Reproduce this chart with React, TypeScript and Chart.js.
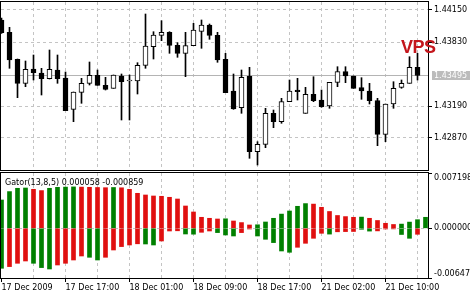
import React, { useEffect, useRef } from 'react';
import { Chart, registerables } from 'chart.js';

Chart.register(...registerables);

// ---- Candles (hourly, EURUSD-like) ----
const opens = [
  1.44050, 1.43927, 1.43657, 1.43417, 1.43560, 1.43520, 1.43463, 1.43550, 1.43470, 1.43157,
  1.43327, 1.43417, 1.43497, 1.43397, 1.43367, 1.43490, 1.43440, 1.43440, 1.43597, 1.43783,
  1.43897, 1.43927, 1.43797, 1.43717, 1.43793, 1.43937, 1.44000, 1.43897, 1.43657, 1.43340,
  1.43173, 1.43487, 1.42733, 1.42807, 1.43117, 1.43033, 1.43233, 1.43350, 1.43117, 1.43307,
  1.43250, 1.43190, 1.43427, 1.43533, 1.43490, 1.43373, 1.43340, 1.43243, 1.42907, 1.43210,
  1.43377, 1.43417, 1.43577,
];
const highs = [
  1.44070, 1.43977, 1.43660, 1.43640, 1.43700, 1.43567, 1.43750, 1.43700, 1.43530, 1.43330,
  1.43467, 1.43630, 1.43550, 1.43477, 1.43500, 1.43510, 1.43500, 1.43623, 1.44110, 1.43933,
  1.44043, 1.43933, 1.43823, 1.43927, 1.44017, 1.44050, 1.44010, 1.43927, 1.43717, 1.43510,
  1.43550, 1.43577, 1.42833, 1.43167, 1.43150, 1.43267, 1.43450, 1.43467, 1.43377, 1.43483,
  1.43350, 1.43427, 1.43583, 1.43583, 1.43490, 1.43473, 1.43417, 1.43267, 1.43210, 1.43433,
  1.43450, 1.43683, 1.43717,
];
const lows = [
  1.43915, 1.43567, 1.43273, 1.43383, 1.43450, 1.43300, 1.43460, 1.43417, 1.43143, 1.43033,
  1.43217, 1.43400, 1.43397, 1.43350, 1.43367, 1.43050, 1.43050, 1.43310, 1.43567, 1.43660,
  1.43843, 1.43717, 1.43677, 1.43483, 1.43793, 1.43767, 1.43857, 1.43627, 1.43323, 1.43157,
  1.43117, 1.42667, 1.42600, 1.42773, 1.42973, 1.43017, 1.43233, 1.43250, 1.43117, 1.43233,
  1.43177, 1.43167, 1.43383, 1.43423, 1.43367, 1.43257, 1.43210, 1.42793, 1.42833, 1.43167,
  1.43367, 1.43417, 1.43450,
];
const closes = [
  1.43923, 1.43650, 1.43417, 1.43557, 1.43523, 1.43463, 1.43557, 1.43463, 1.43143, 1.43330,
  1.43417, 1.43497, 1.43397, 1.43357, 1.43500, 1.43433, 1.43442, 1.43597, 1.43790, 1.43900,
  1.43927, 1.43797, 1.43717, 1.43793, 1.43950, 1.44000, 1.43897, 1.43650, 1.43323, 1.43160,
  1.43477, 1.42733, 1.42807, 1.43117, 1.43033, 1.43233, 1.43340, 1.43333, 1.43307, 1.43243,
  1.43183, 1.43427, 1.43533, 1.43490, 1.43367, 1.43340, 1.43243, 1.42907, 1.43210, 1.43367,
  1.43417, 1.43577, 1.43495,
];
const lastPrice = 1.43495;
const priceTicks = [1.42870, 1.43190, 1.43830, 1.44150];

// ---- Gator(13,8,5) ----
const gatorUpper = [
  0.003684, 0.004778, 0.005207, 0.005246, 0.005077, 0.004908, 0.005207, 0.005337, 0.005363, 0.005389,
  0.005363, 0.005337, 0.005311, 0.005285, 0.005311, 0.005272, 0.005077, 0.004556, 0.004335, 0.004205,
  0.004166, 0.004036, 0.003814, 0.002903, 0.002122, 0.001432, 0.001302, 0.001211, 0.001237, 0.000950,
  0.000742, 0.000430, 0.000456, 0.000820, 0.001302, 0.001849, 0.002252, 0.002864, 0.003215, 0.003150,
  0.002734, 0.002187, 0.001666, 0.001523, 0.001432, 0.001458, 0.001302, 0.001015, 0.000651, 0.000495,
  0.000547, 0.000807, 0.001120, 0.001432,
];
const gatorUpperColors = 'GGGGRRGGGGRRRRGRRRRRRRRRRRRRGRRRGGGGGGGRRRRRRGRRRRGGGG'.split('');
const gatorLower = [
  -0.005207, -0.004986, -0.004556, -0.004257, -0.004556, -0.005116, -0.005298, -0.004778, -0.004556, -0.004127,
  -0.003606, -0.003775, -0.004127, -0.003775, -0.002825, -0.002382, -0.002174, -0.002018, -0.002044, -0.002174,
  -0.001653, -0.000351, -0.000325, -0.000742, -0.000768, -0.000521, -0.000351, -0.000560, -0.000872, -0.001002,
  -0.000560, -0.000091, -0.001002, -0.001432, -0.001862, -0.002955, -0.003124, -0.002473, -0.001953, -0.001302,
  -0.000651, -0.000755, -0.000456, -0.000430, -0.000417, -0.000130, -0.000365, -0.000338, -0.000091, -0.000078,
  -0.000807, -0.001302, -0.000781,
];
const gatorLowerColors = 'GRRRGGGRRRRGGRRRRRGGRRRGGRRGGGRRGGGGGRRRRGRRRGGRRRGGR'.split('');
const gatorMax = 0.007198;
const gatorMin = -0.006471;
const gatorTickLabels = ['-0.006471', '0.000000', '0.007198'];
const gatorTitle = 'Gator(13,8,5) 0.000058 -0.000859';

// ---- Time axis ----
const xTickBars = [0, 8, 16, 24, 32, 40, 48];
const xTickLabels = ['17 Dec 2009', '17 Dec 17:00', '18 Dec 01:00', '18 Dec 09:00', '18 Dec 17:00', '21 Dec 02:00', '21 Dec 10:00'];
const gridBars = [4, 8, 12, 16, 20, 24, 28, 32, 36, 40, 44, 48, 52];

const X_MIN = -0.0625;
const X_MAX = 53.3125;
const Y_MIN = 1.42550;
const Y_MAX = 1.44230;

const FONT = { family: "'DejaVu Sans', sans-serif", size: 8, lineHeight: '9px' };
const GRID = '#c4c4c4';
const PRICE_LINE = '#b4b4b4';
const GREEN = '#008000';
const RED = '#e01010';

const framePlugin = {
  id: 'frame',
  afterDraw(chart: any) {
    const { ctx, chartArea: a } = chart;
    ctx.save();
    ctx.strokeStyle = '#000';
    ctx.lineWidth = 1;
    ctx.setLineDash([]);
    ctx.strokeRect(a.left - 0.5, a.top - 0.5, a.right - a.left + 1, a.bottom - a.top + 1);
    ctx.restore();
  },
};

const noPad = (s: any) => {
  s.paddingTop = 0;
  s.paddingBottom = 0;
  s.paddingLeft = 0;
  s.paddingRight = 0;
};

export default function App() {
  const topRef = useRef<HTMLCanvasElement>(null);
  const botRef = useRef<HTMLCanvasElement>(null);

  useEffect(() => {
    const idx = opens.map((_, i) => i);
    const top = new Chart(topRef.current as HTMLCanvasElement, {
      type: 'bar',
      data: {
        datasets: [
          {
            data: idx.map((i) => ({ x: i, y: [opens[i], closes[i]] })) as any,
            backgroundColor: idx.map((i) => (closes[i] >= opens[i] ? '#ffffff' : '#000000')),
            borderColor: '#000',
            borderWidth: 1,
            borderSkipped: false,
            barThickness: 5,
            minBarLength: 1,
            grouped: false,
            clip: 0,
          } as any,
          {
            data: idx.map((i) => ({ x: i, y: [lows[i], highs[i]] })) as any,
            backgroundColor: '#000',
            borderWidth: 0,
            barThickness: 1,
            grouped: false,
            clip: 0,
          } as any,
        ],
      },
      options: {
        responsive: false,
        animation: false,
        events: [],
        layout: { padding: { left: 1, top: 2, right: 0, bottom: 2 } },
        plugins: { legend: { display: false }, tooltip: { enabled: false } },
        scales: {
          x: {
            type: 'linear',
            min: X_MIN,
            max: X_MAX,
            offset: false,
            afterBuildTicks: (s: any) => {
              s.ticks = gridBars.map((v) => ({ value: v }));
            },
            afterFit: (s: any) => {
              s.height = 0;
              noPad(s);
            },
            ticks: { display: false },
            grid: { offset: false, drawTicks: false, color: GRID, lineWidth: 1 },
            border: { display: false, dash: [3, 3] },
          } as any,
          y: {
            position: 'right',
            min: Y_MIN,
            max: Y_MAX,
            afterBuildTicks: (s: any) => {
              s.ticks = [...priceTicks, lastPrice].sort((a, b) => a - b).map((v) => ({ value: v }));
            },
            afterFit: (s: any) => {
              s.width = 42;
              noPad(s);
            },
            ticks: {
              font: FONT,
              padding: 2,
              autoSkip: false,
              color: (c: any) => (c.tick && c.tick.value === lastPrice ? '#ffffff' : '#000000'),
              showLabelBackdrop: (c: any) => !!(c.tick && c.tick.value === lastPrice),
              backdropColor: '#bcbcbc',
              backdropPadding: { left: 2, right: 12, top: 0, bottom: 0 },
              callback: (v: any) => Number(v).toFixed(5),
            },
            grid: {
              color: (c: any) => (c.tick && c.tick.value === lastPrice ? PRICE_LINE : GRID),
              tickLength: 4,
              tickColor: (c: any) => (c.tick && c.tick.value === lastPrice ? 'rgba(0,0,0,0)' : '#000'),
              tickBorderDash: [],
            },
            border: {
              color: '#000',
              dash: (c: any) => (c.tick && c.tick.value === lastPrice ? [] : [3, 3]),
            },
          } as any,
        },
      } as any,
      plugins: [framePlugin],
    });

    const gIdx = gatorUpper.map((_, i) => i);
    const lIdx = gatorLower.map((_, i) => i);
    const bot = new Chart(botRef.current as HTMLCanvasElement, {
      type: 'bar',
      data: {
        datasets: [
          {
            data: gIdx.map((i) => ({ x: i, y: gatorUpper[i] })) as any,
            backgroundColor: gatorUpperColors.map((c) => (c === 'G' ? GREEN : RED)),
            borderWidth: 0,
            barThickness: 4,
            grouped: false,
            clip: 0,
          } as any,
          {
            data: lIdx.map((i) => ({ x: i, y: gatorLower[i] })) as any,
            backgroundColor: gatorLowerColors.map((c) => (c === 'G' ? GREEN : RED)),
            borderWidth: 0,
            barThickness: 4,
            grouped: false,
            clip: 0,
          } as any,
        ],
      },
      options: {
        responsive: false,
        animation: false,
        events: [],
        layout: { padding: { left: 1, top: 2, right: 0, bottom: 0 } },
        plugins: { legend: { display: false }, tooltip: { enabled: false } },
        scales: {
          x: {
            type: 'linear',
            min: X_MIN,
            max: X_MAX,
            offset: false,
            afterBuildTicks: (s: any) => {
              s.ticks = [0, ...gridBars].map((v) => ({ value: v }));
            },
            afterFit: (s: any) => {
              s.height = 22;
              noPad(s);
            },
            ticks: {
              font: FONT,
              color: '#000',
              padding: 1,
              align: 'start',
              autoSkip: false,
              maxRotation: 0,
              minRotation: 0,
              callback: (v: any) => {
                const i = xTickBars.indexOf(Number(v));
                return i >= 0 ? xTickLabels[i] : '';
              },
            },
            grid: {
              offset: false,
              color: (c: any) => (c.tick && c.tick.value === 0 ? 'rgba(0,0,0,0)' : GRID),
              tickLength: 4,
              tickColor: (c: any) => (c.tick && c.tick.value % 8 === 0 ? '#000' : 'rgba(0,0,0,0)'),
              tickBorderDash: [],
            },
            border: { color: '#000', dash: [3, 3] },
          } as any,
          y: {
            position: 'right',
            min: gatorMin,
            max: gatorMax,
            afterBuildTicks: (s: any) => {
              s.ticks = [gatorMin, 0, gatorMax].map((v) => ({ value: v }));
            },
            afterFit: (s: any) => {
              s.width = 42;
              noPad(s);
            },
            ticks: {
              font: FONT,
              color: '#000',
              padding: 2,
              autoSkip: false,
              callback: (v: any) => {
                const n = Number(v);
                if (n === gatorMax) return ['', gatorTickLabels[2]];
                if (n === gatorMin) return [gatorTickLabels[0], ''];
                return gatorTickLabels[1];
              },
            },
            grid: {
              color: (c: any) => (c.tick && c.tick.value === 0 ? GRID : 'rgba(0,0,0,0)'),
              tickLength: 4,
              tickColor: '#000',
              tickBorderDash: [],
            },
            border: { color: '#000', dash: [3, 3] },
          } as any,
        },
      } as any,
      plugins: [framePlugin],
    });

    return () => {
      top.destroy();
      bot.destroy();
    };
  }, []);

  return (
    <div style={{ position: 'absolute', left: 0, top: 0, width: 470, height: 300, background: '#fff', overflow: 'hidden' }}>
      <canvas ref={topRef} width={470} height={172} style={{ position: 'absolute', left: 0, top: 0 }} />
      <canvas ref={botRef} width={470} height={129} style={{ position: 'absolute', left: 0, top: 171 }} />
      <div
        style={{
          position: 'absolute',
          left: 5,
          top: 178,
          font: "8px 'DejaVu Sans', sans-serif",
          lineHeight: '9px',
          color: '#000',
          whiteSpace: 'nowrap',
        }}
      >
        {gatorTitle}
      </div>
      <div
        style={{
          position: 'absolute',
          left: 401,
          top: 38,
          font: "900 18px 'Liberation Sans', sans-serif",
          lineHeight: '18px',
          color: '#c4161c',
          whiteSpace: 'nowrap',
          letterSpacing: '-0.5px',
        }}
      >
        VPS
      </div>
    </div>
  );
}
